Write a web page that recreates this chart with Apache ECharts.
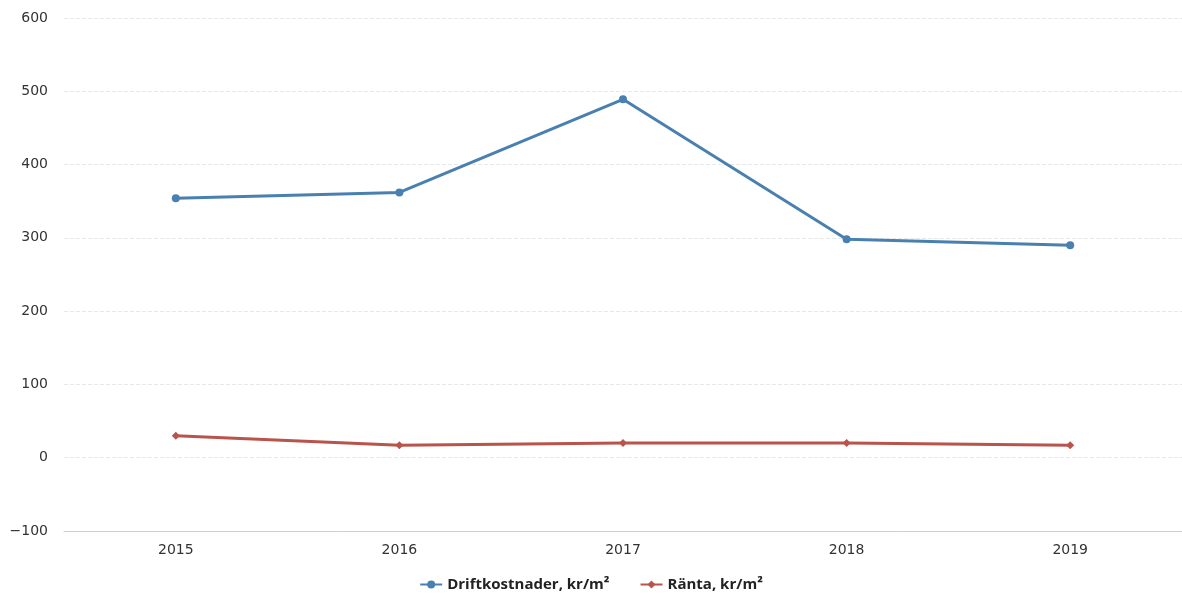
<!DOCTYPE html>
<html lang="sv">
<head>
    <meta charset="UTF-8">
    <title>Driftkostnader och ränta</title>
    <script type="text/javascript" src="https://cdn.jsdelivr.net/npm/echarts@6/dist/echarts.min.js"></script>
    <style>
        html, body { margin: 0; padding: 0; background: #fff; }
    </style>
</head>
<body>
<div id="main" style="width: 1182px;height: 599px"></div>
<script type="text/javascript">
    // data
    var years = ['2015', '2016', '2017', '2018', '2019'];
    var drift = [354, 362, 489, 298, 290];
    var ranta = [30, 17, 20, 20, 17];
    var yTicks = [-100, 0, 100, 200, 300, 400, 500, 600];

    var myChart = echarts.init(document.getElementById('main'));
    var option = {
        animation: false,
        textStyle: { fontFamily: 'DejaVu Sans' },
        grid: {
            left: 64,
            right: -8,
            top: 18,
            bottom: 68
        },
        legend: {
            bottom: 2,
            left: 'center',
            itemWidth: 22,
            itemHeight: 10,
            itemGap: 30,
            textStyle: {
                fontFamily: 'Open Sans',
                fontWeight: 'bold',
                fontSize: 15,
                color: '#222'
            },
            data: ['Driftkostnader, kr/m²', 'Ränta, kr/m²']
        },
        xAxis: {
            type: 'category',
            data: years,
            boundaryGap: true,
            axisLine: { onZero: false, lineStyle: { color: '#c8d0d8' } },
            axisTick: { length: 8, lineStyle: { color: '#c8d0d8' } },
            axisLabel: { color: '#333', fontSize: 14, margin: 12 }
        },
        yAxis: {
            type: 'value',
            min: yTicks[0],
            max: yTicks[yTicks.length - 1],
            interval: 100,
            axisLine: { show: false },
            axisTick: { show: false },
            axisLabel: {
                color: '#333',
                fontSize: 14,
                margin: 16,
                formatter: function (v) { return v < 0 ? '\u2212' + (-v) : v; }
            },
            splitLine: {
                lineStyle: { color: '#e6e8ea', type: 'dashed', width: 1 }
            }
        },
        series: [
            {
                name: 'Driftkostnader, kr/m²',
                type: 'line',
                data: drift,
                symbol: 'circle',
                symbolSize: 8,
                color: '#4a80b0',
                lineStyle: { width: 3, color: '#4a80b0' },
                itemStyle: { color: '#4a80b0' }
            },
            {
                name: 'Ränta, kr/m²',
                type: 'line',
                data: ranta,
                symbol: 'diamond',
                symbolSize: 8,
                color: '#b8544c',
                lineStyle: { width: 3, color: '#b8544c' },
                itemStyle: { color: '#b8544c' }
            }
        ]
    };
    myChart.setOption(option);
</script>
</body>
</html>
